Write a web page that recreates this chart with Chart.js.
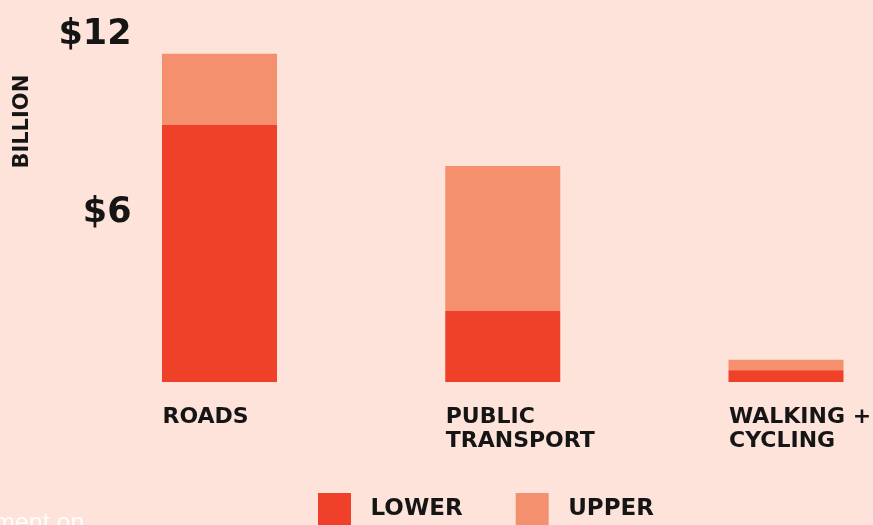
<!DOCTYPE html>
<html>
<head>
<meta charset="utf-8">
<script src="https://cdn.jsdelivr.net/npm/chart.js@4"></script>
<style>
  html, body { margin: 0; padding: 0; background: #fde3da; overflow: hidden; }
  .wrap { position: relative; width: 873px; height: 545px; }
  .caption { position: absolute; left: -6px; top: 508px; line-height: 24px; color: rgba(255,255,255,0.92); font: 25px "Liberation Sans", Arial, sans-serif; }
</style>
</head>
<body>
<div class="wrap">
  <canvas id="chart" width="873" height="545"></canvas>
  <div class="caption">ment on</div>
</div>
<script>
// spending, $ billion
const categories = [["ROADS"], ["PUBLIC", "TRANSPORT"], ["WALKING +", "CYCLING"]]
const lowerValues = [8.7, 2.4, 0.4]
const upperValues = [2.4, 4.9, 0.35]
const yTickValues = [6, 12]
const seriesNames = ["LOWER", "UPPER"]

const ink = "#151515"
const fontFamily = "'DejaVu Sans', sans-serif"

// rotated "BILLION" label, placed from the y scale
const billionLabel = {
    id: "billionLabel",
    afterDraw(chart) {
        const y = chart.scales.y.getPixelForValue(8.8)
        const ctx = chart.ctx
        ctx.save()
        ctx.translate(23, y)
        ctx.rotate(-Math.PI / 2)
        ctx.font = "bold 21px " + fontFamily
        ctx.fillStyle = ink
        ctx.textAlign = "center"
        ctx.textBaseline = "middle"
        ctx.fillText("BILLION", 0, 0)
        ctx.restore()
    }
}

const chart = new Chart(document.getElementById("chart"), {
    type: "bar",
    data: {
        labels: categories,
        datasets: [
            { label: " " + seriesNames[0], data: lowerValues, backgroundColor: "#ef4129", clip: false },
            { label: " " + seriesNames[1], data: upperValues, backgroundColor: "#f5906f", clip: false }
        ]
    },
    options: {
        responsive: false,
        animation: false,
        layout: { padding: { left: 186, right: 87, top: 27, bottom: 9 } },
        datasets: { bar: { barPercentage: 1, categoryPercentage: 0.406 } },
        scales: {
            x: {
                stacked: true,
                offset: false,
                grid: { display: false, drawTicks: false },
                border: { display: false },
                ticks: {
                    color: ink,
                    align: "start",
                    mirror: true,
                    labelOffset: -57,
                    padding: -47,
                    autoSkip: false,
                    maxRotation: 0,
                    font: { family: fontFamily, size: 22, weight: "bold", lineHeight: 1.1 }
                },
                afterFit(scale) {
                    scale.height = 58
                    scale.paddingLeft = 0
                    scale.paddingRight = 0
                }
            },
            y: {
                stacked: true,
                min: 0,
                max: 12,
                grid: { display: false, drawTicks: false },
                border: { display: false },
                afterBuildTicks(scale) { scale.ticks = yTickValues.map(v => ({ value: v })) },
                ticks: {
                    color: ink,
                    mirror: true,
                    crossAlign: "far",
                    padding: -161,
                    labelOffset: 8,
                    callback: v => "$" + v,
                    font: { family: fontFamily, size: 35, weight: "bold" }
                },
                afterFit(scale) {
                    scale.width = 33.5
                    scale.paddingTop = 0
                    scale.paddingBottom = 0
                }
            }
        },
        plugins: {
            legend: {
                position: "bottom",
                labels: {
                    color: ink,
                    boxWidth: 33,
                    boxHeight: 33,
                    padding: 53,
                    font: { family: fontFamily, size: 23, weight: "bold" }
                }
            },
            tooltip: { enabled: false }
        }
    },
    plugins: [billionLabel]
});
</script>
</body>
</html>
